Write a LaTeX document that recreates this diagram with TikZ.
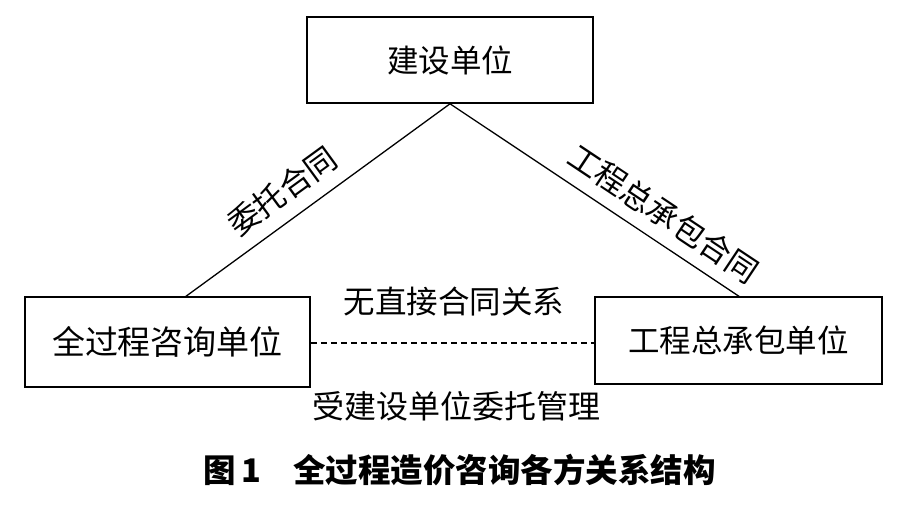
\documentclass[tikz,border=0pt]{standalone}
\usepackage{fontspec}
\setmainfont{Noto Sans CJK SC}
\begin{document}
\begin{tikzpicture}[x=1pt,y=-1pt,
  box/.style={draw, line width=1.6pt, inner sep=0pt},
  lbl/.style={font=\fontsize{31.5}{31.5}\selectfont, inner sep=0pt},
  link/.style={line width=1.3pt}]
\useasboundingbox (0,0) rectangle (916,525);
\node[box, minimum width=286pt, minimum height=86pt, font=\fontsize{31.5}{31.5}\selectfont] (top) at (450,60) {建设单位};
\node[box, minimum width=285pt, minimum height=90pt, font=\fontsize{33}{33}\selectfont] (left) at (167.5,342) {全过程咨询单位};
\node[box, minimum width=287pt, minimum height=87pt, font=\fontsize{31.5}{31.5}\selectfont] (right) at (738.5,340.5) {工程总承包单位};
\coordinate (lc) at (185,297);
\coordinate (rc) at (740,297);
\draw[link] (top.south) -- node[lbl, sloped, pos=0.57, above=13pt] {委托合同} (lc);
\draw[link] (top.south) -- node[lbl, sloped, pos=0.685, above=12pt] {工程总承包合同} (rc);
\draw[link, dash pattern=on 6pt off 4pt] (left.east |- 0,343) coordinate (dl) -- (right.west |- dl) coordinate (dr);
\node[lbl] (nocontract) at (454,302) {无直接合同关系};
\node[lbl, font=\fontsize{32}{32}\selectfont] (manage) at (456,406) {受建设单位委托管理};
\node[lbl, font=\fontsize{32.5}{32.5}\selectfont\bfseries, anchor=west] (cap) at (203,470) {图\,1\hspace{1em}全过程造价咨询各方关系结构};
\end{tikzpicture}
\end{document}
